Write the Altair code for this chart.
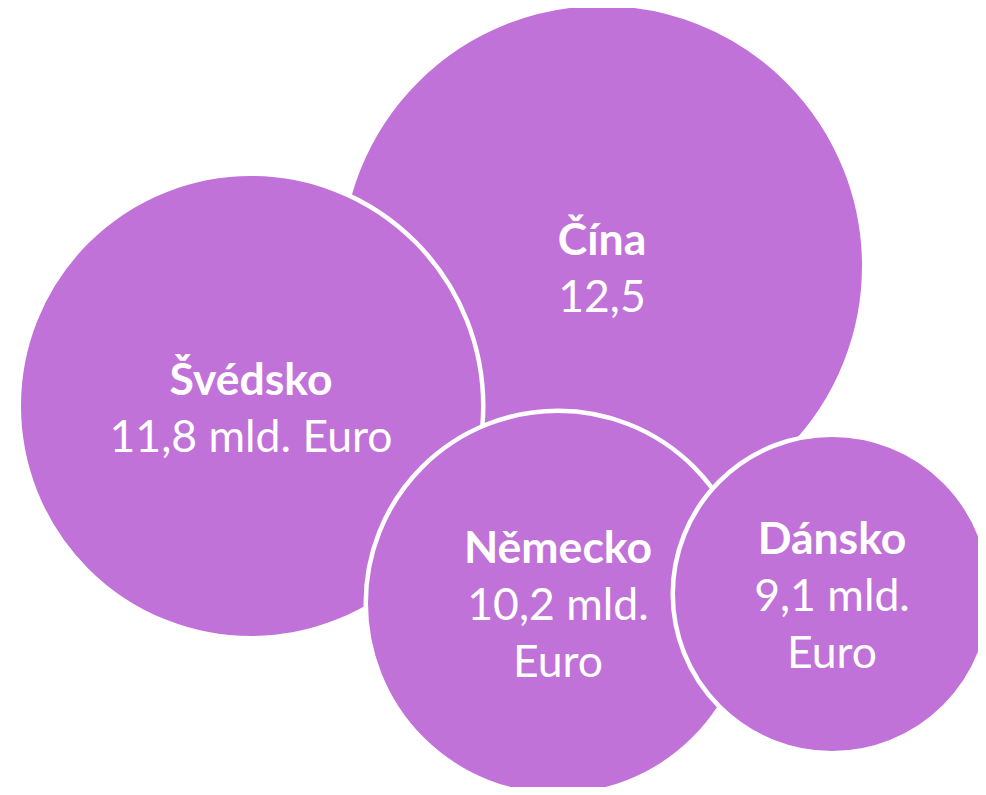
import altair as alt
import pandas as pd

# Data
countries = ["Čína", "Švédsko", "Německo", "Dánsko"]
values = [12.5, 11.8, 10.2, 9.1]
value_labels = ["12,5", "11,8 mld. Euro", "10,2 mld.\nEuro", "9,1 mld.\nEuro"]
# bubble layout coordinates (abstract layout units, top-left origin)
x_pos = [594, 243, 550, 824]
y_pos = [258, 398, 595, 586]
draw_order = [1, 2, 3, 4]

df = pd.DataFrame({
    "country": countries,
    "value": values,
    "label": value_labels,
    "x": x_pos,
    "y": y_pos,
    "draw": draw_order,
})
df["nlines"] = [lab.count("\n") + 2 for lab in df["label"]]
df["name_text"] = [c + "\n" * (n - 1) for c, n in zip(df["country"], df["nlines"])]
df["val_text"] = ["\n" + lab for lab in df["label"]]

PURPLE = "#C172D8"
FONT = "Lato"
FS = 44.5
LH = 57
W, H = 970, 779

xs = alt.Scale(domain=[0, W], nice=False, zero=False)
ys = alt.Scale(domain=[0, H], nice=False, zero=False, reverse=True)

base = alt.Chart(df).encode(
    x=alt.X("x:Q", scale=xs, axis=None),
)

circles = base.mark_circle(opacity=1, color=PURPLE, stroke="white", strokeWidth=4.5).encode(
    y=alt.Y("y:Q", scale=ys, axis=None),
    size=alt.Size(
        "value:Q",
        scale=alt.Scale(
            type="linear",
            domain=[9.1, 10.2, 11.8, 12.5],
            range=[101442, 147840, 215760, 275100],
            zero=False,
            nice=False,
        ),
        legend=None,
    ),
    order=alt.Order("draw:Q"),
)

text_base = base.transform_calculate(
    ty=f"datum.y - (datum.nlines - 1) * {LH / 2}"
).encode(y=alt.Y("ty:Q", scale=ys, axis=None))

names = text_base.mark_text(
    font=FONT, fontSize=FS, fontWeight="bold", color="white",
    lineBreak="\n", lineHeight=LH, baseline="middle", align="center", dy=4,
).encode(text="name_text:N")

vals = text_base.mark_text(
    font=FONT, fontSize=FS, fontWeight="normal", color="white",
    lineBreak="\n", lineHeight=LH, baseline="middle", align="center", dy=4,
).encode(text="val_text:N")

chart = alt.layer(circles, names, vals).properties(
    width=W,
    height=H,
    autosize=alt.AutoSizeParams(type="none"),
    padding=0,
    background="white",
).configure_view(stroke=None)

chart.save("out.html", embed_options={"renderer": "svg", "actions": False})
